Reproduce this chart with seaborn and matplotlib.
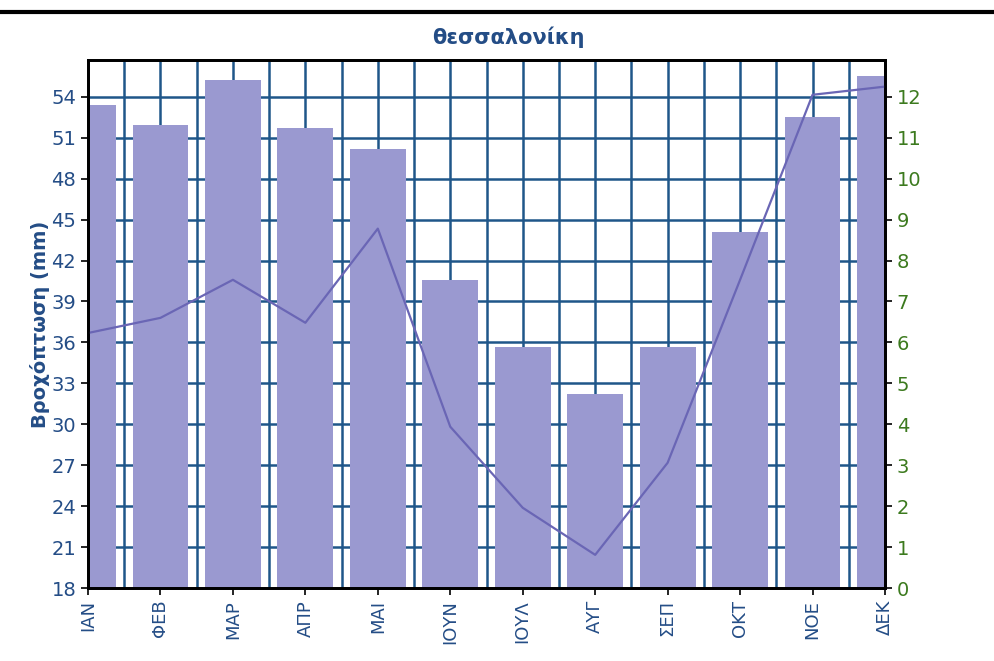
import numpy as np
import pandas as pd
import matplotlib
matplotlib.use("Agg")
import matplotlib.pyplot as plt
from matplotlib.lines import Line2D
import seaborn as sns

# data
months = ["ΙΑΝ", "ΦΕΒ", "ΜΑΡ", "ΑΠΡ", "ΜΑΙ", "ΙΟΥΝ", "ΙΟΥΛ", "ΑΥΓ", "ΣΕΠ", "ΟΚΤ", "ΝΟΕ", "ΔΕΚ"]
rain_mm = [53.4, 51.9, 55.2, 51.7, 50.2, 40.6, 35.7, 32.2, 35.7, 44.1, 52.5, 55.5]
right_vals = [6.23, 6.60, 7.53, 6.48, 8.78, 3.94, 1.96, 0.81, 3.06, 7.53, 12.05, 12.25]
left_ticks = list(range(18, 55, 3))
right_ticks = list(range(0, 13))

BAR = "#9a99d0"
LINE = "#6a66b5"
GRID = "#1f5689"
BLUE = "#244d86"
GREEN = "#3c7a1e"

sns.set_style("white")
plt.rcParams["font.family"] = ["DejaVu Sans"]

df = pd.DataFrame({"month": months, "rain": rain_mm, "val": right_vals, "pos": np.arange(len(months))})

fig = plt.figure(figsize=(9.94, 6.61), dpi=100)
ax = fig.add_axes([88 / 994, 1 - 588 / 661, (885 - 88) / 994, (588 - 60) / 661])

sns.barplot(data=df, x="month", y="rain", color=BAR, saturation=1, width=0.77,
            edgecolor="none", ax=ax)
# keep bars above the grid
for p in ax.patches:
    p.set_zorder(3)
for y in left_ticks[1:]:
    ax.axhline(y, color=GRID, lw=1.8, zorder=1)
for x in np.arange(0.5, 11, 0.5):
    ax.axvline(x, color=GRID, lw=1.8, zorder=1)

ax.set_xlim(0, 11)
ax.set_ylim(18, 56.7)
ax.set_yticks(left_ticks)
ax.set_xlabel("")
ax.set_ylabel("Βροχόπτωση (mm)", color=BLUE, fontsize=14, fontweight="bold", labelpad=1)
ax.tick_params(axis="y", colors="black", labelcolor=BLUE, labelsize=14, length=5, width=1.2, direction="out", left=True)
ax.tick_params(axis="x", colors="black", labelcolor=BLUE, labelsize=13, length=5, width=1.2, direction="out",
               labelrotation=90, bottom=True)
for s in ax.spines.values():
    s.set_color("black")
    s.set_linewidth(2)
    s.set_zorder(5)

ax2 = ax.twinx()
sns.lineplot(data=df, x="pos", y="val", color=LINE, lw=1.6, ax=ax2)
ax2.set_ylim(0, 12.9)
ax2.set_yticks(right_ticks)
ax2.set_ylabel("")
ax2.set_xlim(0, 11)
ax2.tick_params(axis="y", colors="black", labelcolor=GREEN, labelsize=14, length=5, width=1.2, direction="out", right=True)
for s in ax2.spines.values():
    s.set_color("black")
    s.set_linewidth(2)

fig.text(508 / 994, 1 - 37 / 661, "θεσσαλονίκη", ha="center", va="center",
         color=BLUE, fontsize=15, fontweight="bold")
fig.add_artist(Line2D([0, 1], [1 - 12 / 661, 1 - 12 / 661], color="black", lw=3, transform=fig.transFigure))

fig.savefig("out.png", dpi=100)
